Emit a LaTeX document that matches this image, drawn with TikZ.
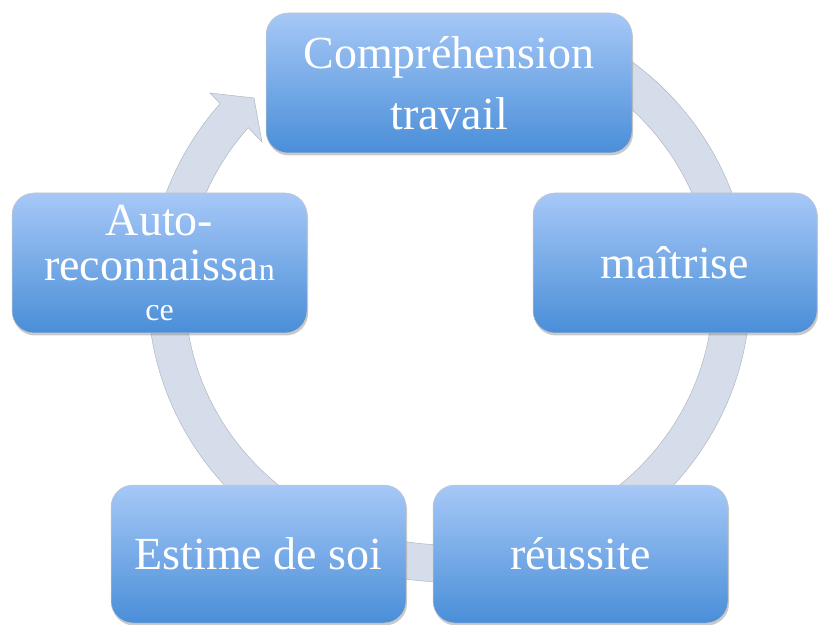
\documentclass[tikz,border=0pt]{standalone}
\usepackage{fontspec}
\setmainfont{Liberation Serif}
\usetikzlibrary{shadows}
\definecolor{boxtop}{RGB}{166,200,247}
\definecolor{boxbot}{RGB}{74,142,216}
\definecolor{ringc}{RGB}{214,221,234}
\definecolor{ringedge}{RGB}{176,182,194}
\tikzset{
  cyclebox/.style={rectangle, rounded corners=22pt, top color=boxtop, bottom color=boxbot,
    draw=gray!45, line width=0.5pt, text=white, font=\fontsize{46}{46}\selectfont,
    align=center, inner sep=0pt,
    drop shadow={shadow xshift=1pt, shadow yshift=-2.5pt, opacity=0.35, fill=black!60}},
  ringarrow/.style={fill=ringc, draw=ringedge, line width=0.5pt}
}
\newcommand{\smalltxt}{\fontsize{32}{32}\selectfont}
\begin{document}
\begin{tikzpicture}[x=1pt,y=1pt]
\useasboundingbox (0,0) rectangle (818,624);
\coordinate (C) at (449,332);
\coordinate (wingout) at (210,531);
\coordinate (tip) at (254,526);
\coordinate (wingin) at (262,482);
\path[ringarrow] ([shift={(C)}]139.5:264pt and 253pt)
  arc[start angle=139.5, end angle=420, x radius=264pt, y radius=253pt]
  -- ([shift={(C)}]420:301pt and 290pt)
  arc[start angle=420, end angle=139.5, x radius=301pt, y radius=290pt]
  -- (wingout) -- (tip) -- (wingin) -- cycle;
\node[cyclebox, minimum width=366pt, minimum height=140pt] (comp) at (449,541) {Compréhension\\[15pt]travail};
\node[cyclebox, minimum width=284pt, minimum height=140pt] (maitr) at (675,361) {maîtrise};
\node[cyclebox, minimum width=295pt, minimum height=138pt] (reuss) at (580.5,70) {réussite};
\node[cyclebox, minimum width=295pt, minimum height=138pt] (estime) at (258.5,70) {Estime de soi};
\node[cyclebox, minimum width=295pt, minimum height=140pt] (auto) at (159.5,361) {Auto-\\[-1pt]reconnaissa{\smalltxt n}\\[-6pt]{\smalltxt ce}};
\end{tikzpicture}
\end{document}
